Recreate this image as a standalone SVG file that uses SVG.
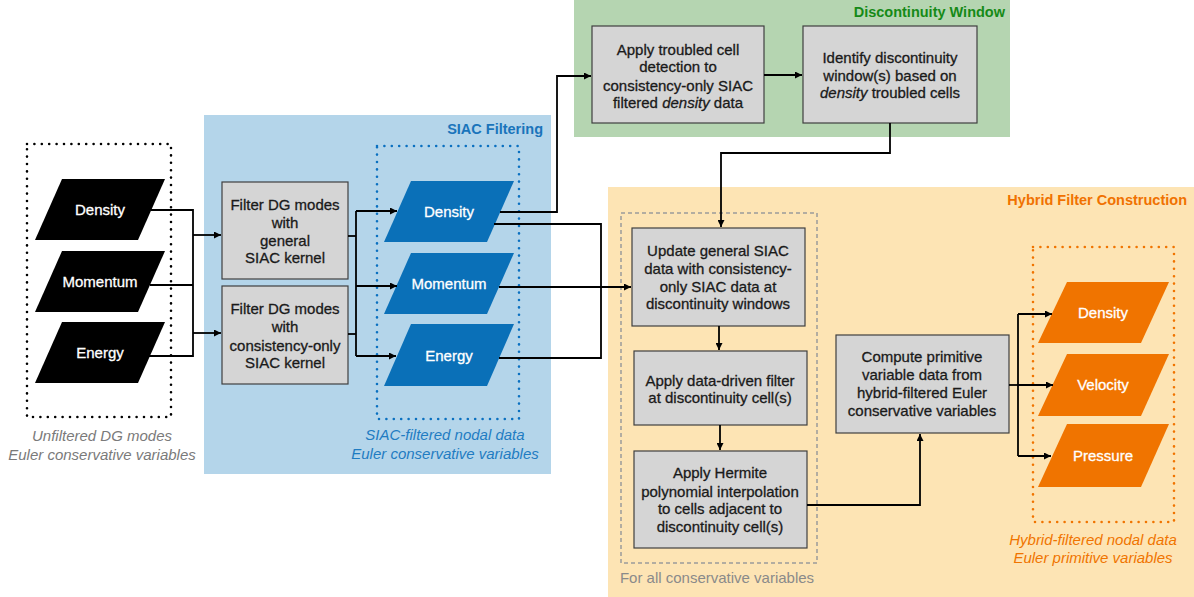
<svg xmlns="http://www.w3.org/2000/svg" width="1194" height="597" viewBox="0 0 1194 597">
<defs>
<marker id="ah" viewBox="0 0 10 10" refX="10" refY="5" markerWidth="7" markerHeight="7" markerUnits="userSpaceOnUse" orient="auto">
<path d="M0,0 L10,5 L0,10 z" fill="#000"/>
</marker>
<style>
text{font-family:"Liberation Sans",Arial,sans-serif;font-size:15px;text-anchor:middle;fill:#1a1a1a;stroke:#1a1a1a;stroke-width:0.3}
.box{fill:#d5d5d5;stroke:#404040;stroke-width:1.2}
text.w{fill:#fff;stroke:#fff}
.cap{font-style:italic;stroke:none}
.title{font-weight:bold;font-size:14.5px;text-anchor:end;stroke:none}
.dots{fill:none;stroke-width:2.6;stroke-linecap:round;stroke-dasharray:0 7.4}
.con path{fill:none;stroke:#000;stroke-width:1.8}
.arr{marker-end:url(#ah)}
</style>
</defs>
<rect width="1194" height="597" fill="#fff"/>
<g id="region-siac">
<rect x="204" y="115" width="347" height="359" fill="#b4d5ea"/>
<text class="title" x="543" y="134" style="fill:#1a74bb">SIAC Filtering</text>
</g>
<g id="region-discontinuity">
<rect x="574" y="0" width="436" height="137" fill="#b5d5b1"/>
<text class="title" x="1005" y="17" style="fill:#158a17">Discontinuity Window</text>
</g>
<g id="region-hybrid">
<rect x="608" y="187" width="586" height="410" fill="#fde4b4"/>
<text class="title" x="1187" y="205" style="fill:#f07100">Hybrid Filter Construction</text>
</g>
<g id="group-unfiltered">
<rect class="dots" x="27" y="144" width="144" height="273" stroke="#000"/>
<text class="cap" x="102" y="441" style="fill:#7a7a7a">Unfiltered DG modes</text>
<text class="cap" x="102" y="460" style="fill:#7a7a7a">Euler conservative variables</text>
</g>
<g id="in-density"><polygon points="62,179 165,179 138,240 35,240" fill="#000"/><text class="w" x="100" y="215">Density</text></g>
<g id="in-momentum"><polygon points="62,251 165,251 138,312 35,312" fill="#000"/><text class="w" x="100" y="287">Momentum</text></g>
<g id="in-energy"><polygon points="62,322 165,322 138,383 35,383" fill="#000"/><text class="w" x="100" y="358">Energy</text></g>
<g id="filter-general"><rect class="box" x="222" y="182" width="126" height="97"/>
<text x="285" y="210">Filter DG modes</text><text x="285" y="228">with</text><text x="285" y="246">general</text><text x="285" y="263">SIAC kernel</text></g>
<g id="filter-consistency"><rect class="box" x="222" y="286" width="126" height="98"/>
<text x="285" y="314">Filter DG modes</text><text x="285" y="332">with</text><text x="285" y="351">consistency-only</text><text x="285" y="368">SIAC kernel</text></g>
<g id="group-siac-nodal">
<rect class="dots" x="377" y="146" width="142" height="273" stroke="#0a70c0"/>
<text class="cap" x="445" y="440" style="fill:#1f7cc2">SIAC-filtered nodal data</text>
<text class="cap" x="445" y="459" style="fill:#1f7cc2">Euler conservative variables</text>
</g>
<g id="siac-density"><polygon points="411,181 514,181 487,242 384,242" fill="#0a70b8"/><text class="w" x="449" y="217">Density</text></g>
<g id="siac-momentum"><polygon points="411,253 514,253 487,314 384,314" fill="#0a70b8"/><text class="w" x="449" y="289">Momentum</text></g>
<g id="siac-energy"><polygon points="411,324 514,324 487,386 384,386" fill="#0a70b8"/><text class="w" x="449" y="361">Energy</text></g>
<g id="troubled-cell"><rect class="box" x="592" y="26" width="172" height="97"/>
<text x="678" y="55">Apply troubled cell</text><text x="678" y="72">detection to</text><text x="678" y="91">consistency-only SIAC</text><text x="678" y="108">filtered <tspan font-style="italic">density</tspan> data</text></g>
<g id="identify-window"><rect class="box" x="803" y="26" width="174" height="97"/>
<text x="890" y="63">Identify discontinuity</text><text x="890" y="81">window(s) based on</text><text x="890" y="98"><tspan font-style="italic">density</tspan> troubled cells</text></g>
<g id="group-all-conservative">
<rect x="621" y="213" width="196" height="350" fill="none" stroke="#9a9a9a" stroke-width="1.5" stroke-dasharray="4 3"/>
<text x="717" y="583" style="fill:#8a8a8a;stroke:none">For all conservative variables</text>
</g>
<g id="update-siac"><rect class="box" x="632" y="228" width="173" height="98"/>
<text x="718" y="256">Update general SIAC</text><text x="718" y="274">data with consistency-</text><text x="718" y="292">only SIAC data at</text><text x="718" y="309">discontinuity windows</text></g>
<g id="data-driven"><rect class="box" x="634" y="351" width="173" height="74"/>
<text x="720" y="386">Apply data-driven filter</text><text x="720" y="403">at discontinuity cell(s)</text></g>
<g id="hermite"><rect class="box" x="634" y="451" width="173" height="97"/>
<text x="720" y="478">Apply Hermite</text><text x="720" y="497">polynomial interpolation</text><text x="720" y="514">to cells adjacent to</text><text x="720" y="532">discontinuity cell(s)</text></g>
<g id="compute-primitive"><rect class="box" x="836" y="335" width="173" height="98"/>
<text x="922" y="362">Compute primitive</text><text x="922" y="380">variable data from</text><text x="922" y="398">hybrid-filtered Euler</text><text x="922" y="416">conservative variables</text></g>
<g id="group-hybrid-nodal">
<rect class="dots" x="1033" y="247" width="141" height="275" stroke="#f07400"/>
<text class="cap" x="1093" y="545" style="fill:#f07400">Hybrid-filtered nodal data</text>
<text class="cap" x="1093" y="563" style="fill:#f07400">Euler primitive variables</text>
</g>
<g id="out-density"><polygon points="1067,282 1169,282 1141,343 1038,343" fill="#f07400"/><text class="w" x="1103" y="318">Density</text></g>
<g id="out-velocity"><polygon points="1067,354 1169,354 1141,416 1038,416" fill="#f07400"/><text class="w" x="1103" y="390">Velocity</text></g>
<g id="out-pressure"><polygon points="1067,424 1169,424 1141,487 1038,487" fill="#f07400"/><text class="w" x="1103" y="461">Pressure</text></g>
<g id="connectors" class="con">
<path d="M151,210 H193 V356 H138"/>
<path d="M150,285 H193"/>
<path class="arr" d="M193,235 H221"/>
<path class="arr" d="M193,333 H221"/>
<path d="M348,236 H356"/>
<path d="M348,334 H356"/>
<path d="M356,211 V356"/>
<path class="arr" d="M356,211 H397"/>
<path class="arr" d="M356,286 H397"/>
<path class="arr" d="M356,356 H396"/>
<path class="arr" d="M500,212 H557 V76 H591"/>
<path d="M494,224 H601 V358 H499"/>
<path class="arr" d="M499,287 H631"/>
<path class="arr" d="M764,75 H802"/>
<path class="arr" d="M890,123 V153 H721 V227"/>
<path class="arr" d="M719,326 V350"/>
<path class="arr" d="M720,425 V450"/>
<path class="arr" d="M807,505 H920 V434"/>
<path d="M1009,385 H1018"/>
<path d="M1018,314 V456"/>
<path class="arr" d="M1018,314 H1052"/>
<path class="arr" d="M1018,385 H1053"/>
<path class="arr" d="M1018,456 H1051"/>
</g>
</svg>
